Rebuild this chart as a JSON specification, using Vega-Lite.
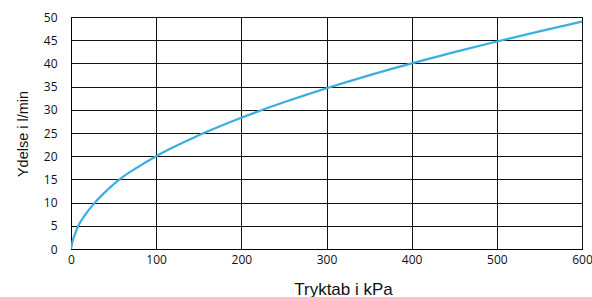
{
  "$schema": "https://vega.github.io/schema/vega-lite/v6.json",
  "autosize": {"type": "none"},
  "padding": {"left": 71, "top": 17, "right": 10, "bottom": 48},
  "width": 511,
  "height": 232,
  "background": "white",
  "config": {
    "view": {"stroke": "#000", "strokeWidth": 1},
    "axis": {
      "grid": true,
      "gridColor": "#111",
      "gridOpacity": 1,
      "gridWidth": 1,
      "domainColor": "#000",
      "ticks": false,
      "tickSize": 0,
      "labelFont": "Open Sans",
      "labelFontSize": 12,
      "labelColor": "#111",
      "titleFont": "Liberation Sans",
      "titleFontWeight": "normal",
      "titleColor": "#111"
    }
  },
  "data": {
    "values": [
      {"x": 0, "y": 0}, {"x": 2, "y": 1.8}, {"x": 4.7, "y": 3.2}, {"x": 8.6, "y": 5},
      {"x": 17, "y": 7.45}, {"x": 28, "y": 10}, {"x": 42, "y": 12.6}, {"x": 57, "y": 15},
      {"x": 78, "y": 17.6}, {"x": 100, "y": 20}, {"x": 120, "y": 21.91}, {"x": 140, "y": 23.66},
      {"x": 160, "y": 25.3}, {"x": 180, "y": 26.83}, {"x": 200, "y": 28.28}, {"x": 225, "y": 30},
      {"x": 250, "y": 31.62}, {"x": 275, "y": 33.17}, {"x": 300, "y": 34.64}, {"x": 350, "y": 37.42},
      {"x": 400, "y": 40}, {"x": 450, "y": 42.43}, {"x": 500, "y": 44.72}, {"x": 550, "y": 46.9},
      {"x": 600, "y": 48.99}
    ]
  },
  "mark": {"type": "line", "color": "#3aaee2", "strokeWidth": 2.2, "interpolate": "monotone", "clip": true},
  "encoding": {
    "x": {
      "field": "x", "type": "quantitative",
      "scale": {"domain": [0, 600], "nice": false, "zero": true},
      "axis": {"values": [0, 100, 200, 300, 400, 500, 600], "labelPadding": 5, "labelFlush": false,
        "title": "Tryktab i kPa", "titleFontSize": 17, "titleAnchor": "middle", "titleAlign": "center",
        "titleX": 272, "titleY": 45, "titleBaseline": "alphabetic"}
    },
    "y": {
      "field": "y", "type": "quantitative",
      "scale": {"domain": [0, 50], "nice": false},
      "axis": {"values": [0, 5, 10, 15, 20, 25, 30, 35, 40, 45, 50], "labelPadding": 14,
        "title": "Ydelse i l/min", "titleFontSize": 14.5, "titleAnchor": "middle", "titleAlign": "center",
        "titleX": -44, "titleY": 116.5, "titleBaseline": "alphabetic", "titleAngle": -90}
    }
  }
}
